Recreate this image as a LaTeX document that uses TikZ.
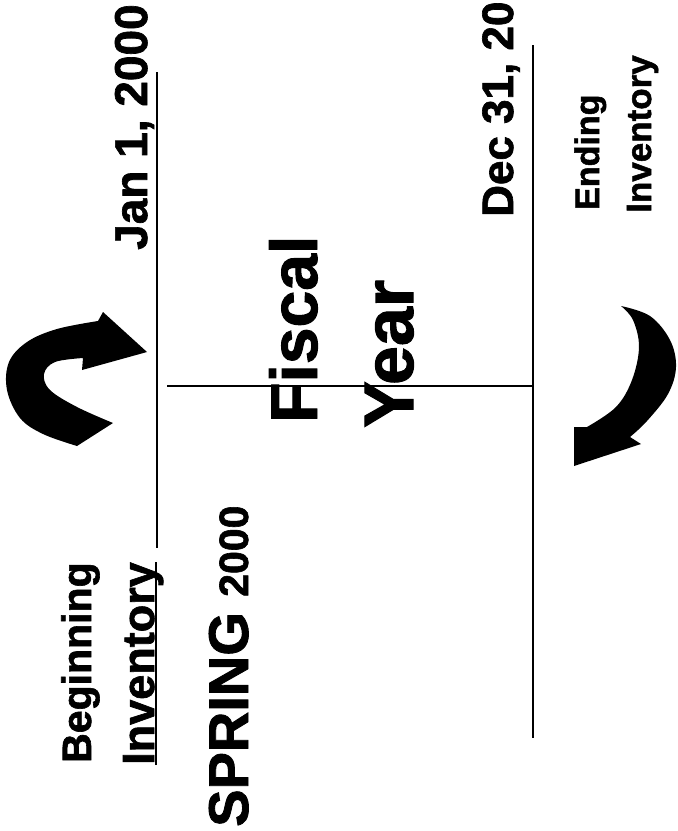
\documentclass[tikz,border=0pt]{standalone}
\usepackage{fontspec}
\setmainfont{Liberation Sans}[BoldFeatures={FakeBold=1.5}]
\begin{document}
\begin{tikzpicture}[x=1pt,y=-1pt,
  lbl/.style={rotate=90,anchor=base west,inner sep=0pt,font=\bfseries\fontsize{#1}{#1}\selectfont},
  axisline/.style={line width=2.5pt},
  bigarrow/.style={fill=black}]
\useasboundingbox (0,0) rectangle (678,831);
% texts
\node[lbl=46] (jan) at (147,250) {Jan 1, 2000};
\node[lbl=44] (dec) at (513,217) {Dec 31, 20};
\node[lbl=34] (ending) at (599,210) {Ending};
\node[lbl=35] (invr) at (651,213) {Inventory};
\node[lbl=41] (begin) at (91,763) {Beginning};
\node[lbl=45] (invl) at (154,765) {Inventory};
\node[lbl=56] (spring) at (248,827) {SPRING};
\node[lbl=41] (spyear) at (248,597) {2000};
\node[lbl=66] (fiscal) at (317,423) {Fiscal};
\node[lbl=70] (year) at (413,428) {Year};
% underline
\draw[line width=2pt] ([xshift=2pt]invl.base west) -- ([xshift=2pt]invl.base east);
% axis lines
\coordinate (j1top) at (157,72);
\coordinate (j1bot) at (157,548);
\coordinate (d31top) at (533,45);
\coordinate (d31bot) at (533,738);
\coordinate (fyL) at (167,386);
\coordinate (fyR) at (533,386);
\draw[axisline] (j1top) -- (j1bot);
\draw[axisline] (d31top) -- (d31bot);
\draw[axisline] (fyL) -- (fyR);
% left curved arrow
\fill[bigarrow] (103,312) -- (147,352) -- (82,370) -- (83,358)
  -- plot[smooth,tension=0.6] coordinates {(83,358) (55,362) (44,374) (50,390) (77,407) (113,423)}
  -- (77,446)
  -- plot[smooth,tension=0.6] coordinates {(77,446) (43,434) (20,418) (7,390) (9,362) (27,342) (57,329) (98,321)}
  -- cycle;
% right curved arrow
\fill[bigarrow] (621,306)
  -- plot[smooth,tension=0.6] coordinates {(621,306) (650,316) (670,340) (676,367) (668,394) (647,421) (630,437)}
  -- (641,444) -- (574,466) -- (574,427) -- (587,427)
  -- plot[smooth,tension=0.6] coordinates {(587,427) (616,407) (632,380) (639,347) (633,320) (621,306)}
  -- cycle;
\end{tikzpicture}
\end{document}
